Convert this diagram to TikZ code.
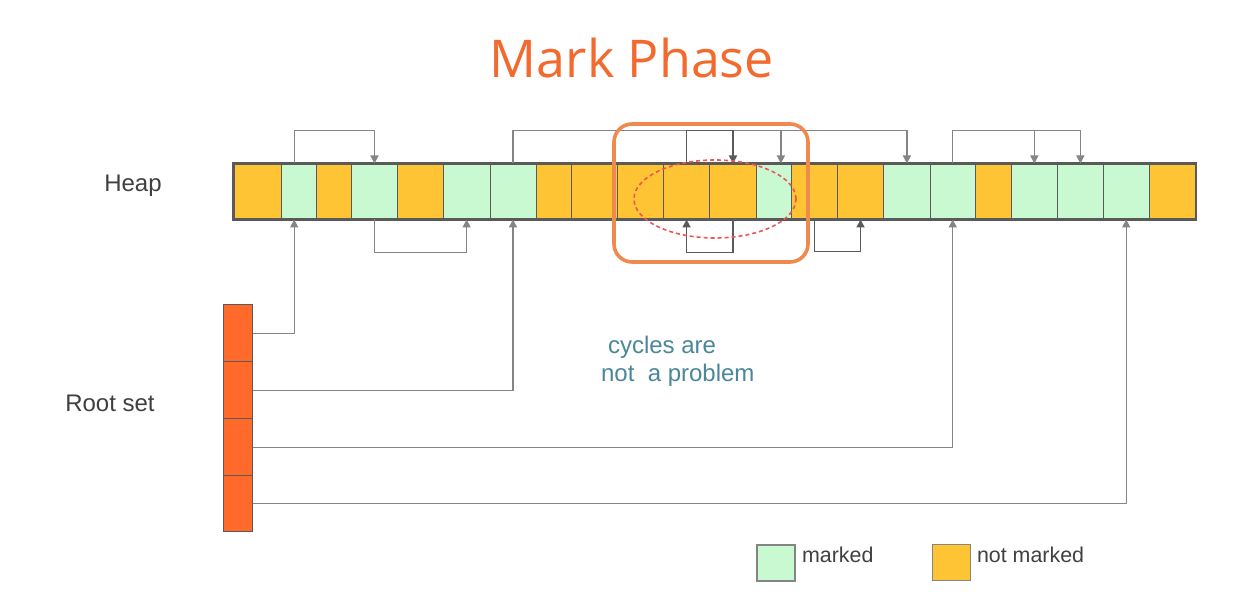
\documentclass[tikz,border=0pt]{standalone}
\usepackage{fontspec}
\setmainfont{Liberation Sans}
\newfontfamily\titlefont{Open Sans}
\usetikzlibrary{arrows.meta}
\definecolor{notmarked}{HTML}{FFC433}
\definecolor{marked}{HTML}{C9F9D1}
\definecolor{rootfill}{HTML}{FF6A2A}
\definecolor{cellline}{HTML}{5A5A5A}
\definecolor{ptrgray}{HTML}{858585}
\definecolor{boxorange}{HTML}{F0894D}
\definecolor{ringred}{HTML}{EE5555}
\definecolor{titleorange}{HTML}{F26A2E}
\definecolor{noteteal}{HTML}{4B8797}
\definecolor{labelgray}{HTML}{404040}
\tikzset{
  heapcell/.style={draw=cellline, line width=0.5pt, inner sep=0pt, minimum height=27.5pt},
  rootcell/.style={draw=cellline, line width=0.5pt, fill=rootfill, inner sep=0pt, minimum width=14.5pt},
  ptr/.style={draw=ptrgray, line width=0.7pt, -{Triangle[length=4pt,width=4pt]}},
  cyc/.style={ptr, draw=cellline, line width=0.9pt},
  lbl/.style={text=labelgray, font=\fontsize{12}{14}\selectfont},
  keybox/.style={draw=ptrgray, line width=0.6pt, minimum width=19pt, minimum height=18pt, inner sep=0pt}
}
\begin{document}
\begin{tikzpicture}[x=0.5pt,y=-0.5pt]
\useasboundingbox[fill=white] (0,0) rectangle (1259,614);
\def\hc#1#2#3#4{
\node[heapcell, fill=#4, minimum width={(#3-#2)*0.5pt}] (#1) at ({(#2+#3)/2},191.5) {};
}
\def\rt#1#2#3{
\node[rootcell, minimum height={(#3-#2)*0.5pt}] (#1) at (237.5,{(#2+#3)/2}) {};
}
\node[text=titleorange, font=\titlefont\fontsize{26}{31}\selectfont] (title) at (632,58) {Mark Phase};
\hc{h1}{234}{281.7}{notmarked}
\hc{h2}{281.7}{316.7}{marked}
\hc{h3}{316.7}{351.7}{notmarked}
\hc{h4}{351.7}{397.3}{marked}
\hc{h5}{397.3}{443.3}{notmarked}
\hc{h6}{443.3}{490}{marked}
\hc{h7}{490}{536}{marked}
\hc{h8}{536}{571.7}{notmarked}
\hc{h9}{571.7}{617.8}{notmarked}
\hc{h10}{617.8}{663.2}{notmarked}
\hc{h11}{663.2}{709.9}{notmarked}
\hc{h12}{709.9}{756.1}{notmarked}
\hc{h13}{756.1}{791.7}{marked}
\hc{h14}{791.7}{837.2}{notmarked}
\hc{h15}{837.2}{883.8}{notmarked}
\hc{h16}{883.8}{930}{marked}
\hc{h17}{930}{975.5}{marked}
\hc{h18}{975.5}{1011}{notmarked}
\hc{h19}{1011}{1057.7}{marked}
\hc{h20}{1057.7}{1103}{marked}
\hc{h21}{1103}{1149.4}{marked}
\hc{h22}{1149.4}{1195.6}{notmarked}
\draw[draw=cellline, line width=1.1pt] (h1.north west) rectangle (h22.south east);
\rt{r1}{305}{361.7}
\rt{r2}{361.7}{419}
\rt{r3}{419}{475.7}
\rt{r4}{475.7}{531.7}
\node[lbl] (heaplbl) at (133,186) {Heap};
\node[lbl] (rootlbl) at (110,403) {Root set};
\draw[ptr] ([xshift=-2.5pt]h2.north) -- ++(0,-33) -| (h4.north);
\draw[ptr] (h7.north) -- ++(0,-33) -| (h16.north);
\draw[ptr] ([xshift=3.5pt]h13.north) ++(0,-33) -- ([xshift=3.5pt]h13.north);
\draw[ptr] (h17.north) -- ++(0,-33) -| (h20.north);
\draw[ptr] (h19.north) ++(0,-33) -- (h19.north);
\draw[ptr] (h4.south) -- ++(0,33) -| (h6.south);
\draw[cyc] (h11.north) -- ++(0,-33) -| (h12.north);
\draw[cyc] (h12.south) -- ++(0,33) -| (h11.south);
\draw[cyc] (h14.south) -- ++(0,32) -| (h15.south);
\draw[ptr] (r1.east) -| ([xshift=-2.5pt]h2.south);
\draw[ptr] (r2.east) -| (h7.south);
\draw[ptr] (r3.east) -| (h17.south);
\draw[ptr] (r4.east) -| (h21.south);
\draw[ringred, line width=0.8pt, dash pattern=on 2pt off 1.5pt] (715,199) ellipse [x radius=40.5pt, y radius=19.5pt];
\draw[boxorange, line width=1.8pt, rounded corners=9pt] (614,124) rectangle (808,262);
\node[anchor=west, text=noteteal, font=\fontsize{12}{14}\selectfont] (note1) at (601,347) {cycles are};
\node[anchor=west, text=noteteal, font=\fontsize{12}{14}\selectfont] (note2) at (594,375) {not\ \ a problem};
\node[keybox, fill=marked] (keym) at (776,563) {};
\node[anchor=west, lbl, font=\fontsize{10.7}{13}\selectfont] (keymt) at (795,555) {marked};
\node[keybox, fill=notmarked] (keyn) at (951.5,562.5) {};
\node[anchor=west, lbl, font=\fontsize{10.7}{13}\selectfont] (keynt) at (970,555) {not marked};
\end{tikzpicture}
\end{document}
